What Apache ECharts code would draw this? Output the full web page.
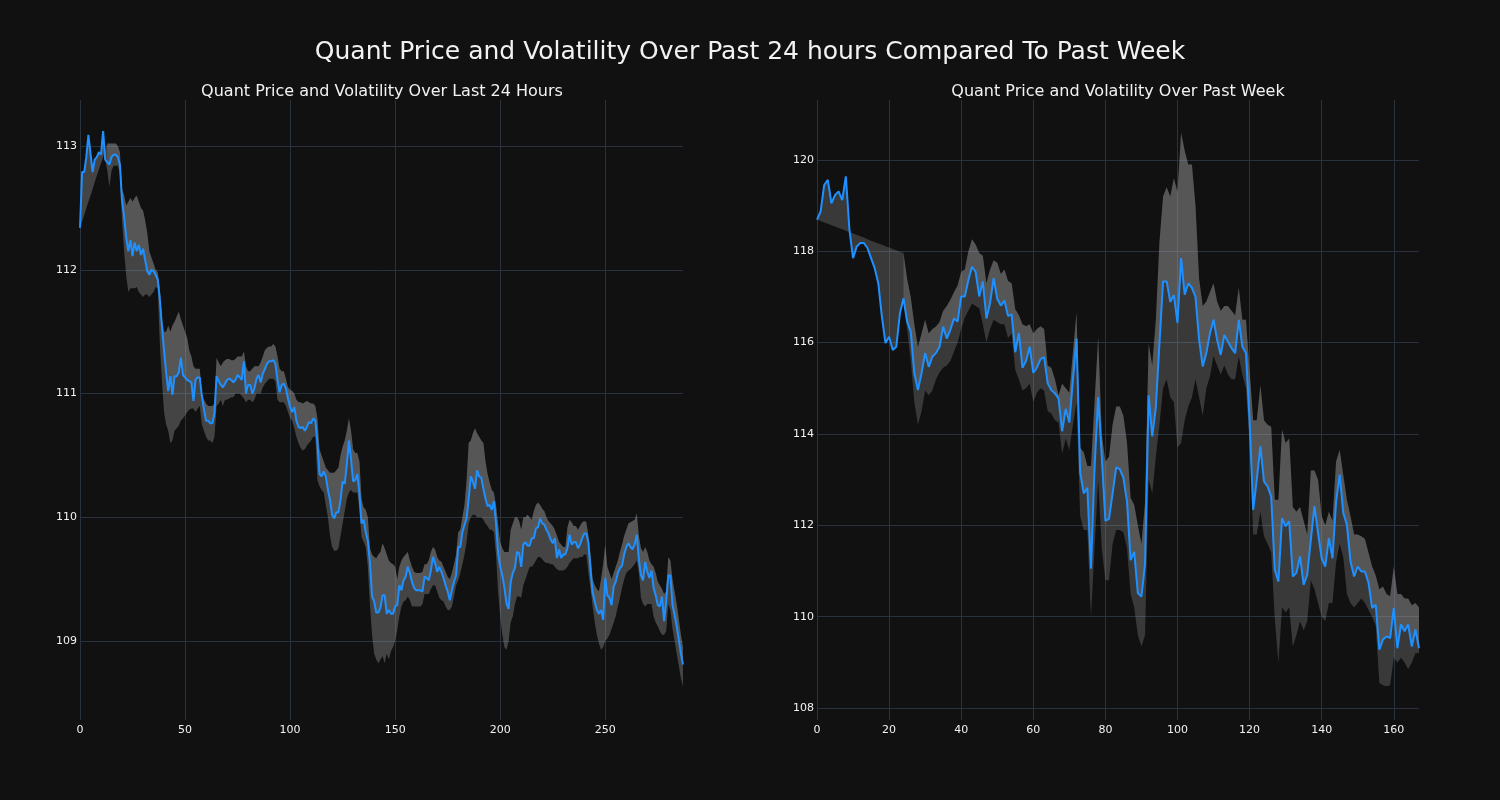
<!DOCTYPE html>
<html>
<head>
<meta charset="utf-8">
<script src="https://cdn.jsdelivr.net/npm/echarts@6/dist/echarts.min.js"></script>
<style>
html,body{margin:0;padding:0;background:#111111;}
#chart{width:1500px;height:800px;}
</style>
</head>
<body>
<div id="chart"></div>
<script>
// ---------- DATA ----------
const mainTitle = "Quant Price and Volatility Over Past 24 hours Compared To Past Week";
const dayTitle = "Quant Price and Volatility Over Last 24 Hours";
const weekTitle = "Quant Price and Volatility Over Past Week";

// Last 24 hours (5-minute steps)
const dayPrice = [
112.34,112.79,112.79,112.91,113.09,112.94,112.79,112.89,112.91,112.95,
112.93,113.12,112.89,112.87,112.85,112.91,112.93,112.93,112.91,112.85,
112.56,112.43,112.26,112.15,112.24,112.11,112.22,112.15,112.20,112.12,
112.17,112.08,111.99,111.96,112.00,111.99,111.96,111.92,111.76,111.54,
111.35,111.17,111.02,111.14,110.99,111.14,111.14,111.17,111.29,111.15,
111.13,111.11,111.10,111.09,110.94,111.11,111.13,111.13,110.98,110.87,
110.78,110.78,110.76,110.76,110.84,111.14,111.10,111.07,111.05,111.08,
111.11,111.12,111.11,111.09,111.11,111.15,111.13,111.11,111.26,111.00,
111.07,111.07,111.00,111.04,111.12,111.15,111.09,111.16,111.20,111.24,
111.26,111.26,111.27,111.24,111.11,111.01,111.07,111.08,111.04,110.96,
110.89,110.85,110.89,110.78,110.73,110.72,110.73,110.70,110.73,110.77,
110.76,110.80,110.78,110.60,110.35,110.33,110.37,110.33,110.22,110.14,
110.02,109.99,110.04,110.04,110.14,110.29,110.27,110.43,110.62,110.47,
110.29,110.30,110.35,110.19,109.95,109.98,109.88,109.81,109.63,109.36,
109.32,109.23,109.23,109.27,109.37,109.37,109.22,109.25,109.22,109.22,
109.28,109.29,109.45,109.41,109.49,109.52,109.60,109.55,109.48,109.43,
109.41,109.41,109.41,109.40,109.52,109.51,109.49,109.57,109.68,109.63,
109.56,109.60,109.56,109.51,109.45,109.40,109.33,109.41,109.48,109.53,
109.76,109.76,109.88,109.94,109.99,110.15,110.33,110.29,110.23,110.38,
110.33,110.32,110.23,110.15,110.09,110.10,110.06,110.13,109.95,109.71,
109.60,109.53,109.43,109.30,109.26,109.48,109.55,109.59,109.72,109.71,
109.60,109.78,109.80,109.77,109.77,109.83,109.83,109.91,109.92,109.99,
109.95,109.94,109.90,109.87,109.82,109.79,109.83,109.67,109.74,109.67,
109.70,109.70,109.75,109.86,109.78,109.80,109.80,109.75,109.78,109.83,
109.87,109.87,109.79,109.57,109.39,109.32,109.25,109.22,109.25,109.17,
109.51,109.37,109.35,109.29,109.44,109.48,109.55,109.59,109.61,109.70,
109.76,109.79,109.76,109.74,109.78,109.86,109.66,109.53,109.49,109.64,
109.56,109.51,109.57,109.43,109.37,109.29,109.28,109.36,109.16,109.32,
109.53,109.53,109.29,109.21,109.12,109.01,108.90,108.81
];
const dayUpper = [
112.34,112.39,112.44,112.50,112.55,112.60,112.65,112.71,112.76,112.81,
112.86,112.91,112.97,113.02,113.02,113.02,113.02,113.02,113.00,112.95,
112.65,112.60,112.52,112.55,112.58,112.55,112.58,112.60,112.55,112.50,
112.48,112.40,112.30,112.15,112.10,112.05,112.00,111.98,111.85,111.60,
111.50,111.50,111.55,111.50,111.55,111.58,111.62,111.66,111.60,111.55,
111.50,111.45,111.35,111.30,111.22,111.20,111.20,111.20,111.00,110.95,
110.92,110.90,110.90,110.90,110.92,111.29,111.25,111.22,111.25,111.27,
111.28,111.28,111.27,111.27,111.28,111.30,111.30,111.30,111.34,111.22,
111.18,111.18,111.20,111.22,111.22,111.22,111.25,111.30,111.35,111.37,
111.38,111.38,111.40,111.38,111.30,111.20,111.18,111.18,111.12,111.05,
111.03,111.02,111.00,110.95,110.93,110.93,110.92,110.93,110.94,110.93,
110.92,110.92,110.90,110.80,110.55,110.50,110.45,110.40,110.38,110.36,
110.36,110.36,110.38,110.40,110.50,110.57,110.62,110.70,110.80,110.70,
110.55,110.52,110.52,110.45,110.15,110.08,110.06,110.00,109.75,109.70,
109.68,109.67,109.70,109.72,109.79,109.75,109.70,109.65,109.63,109.62,
109.60,109.50,109.60,109.65,109.68,109.70,109.72,109.65,109.60,109.56,
109.55,109.55,109.55,109.56,109.62,109.62,109.65,109.72,109.76,109.74,
109.68,109.65,109.64,109.60,109.56,109.52,109.50,109.55,109.62,109.70,
109.88,109.90,110.00,110.10,110.30,110.60,110.62,110.68,110.72,110.68,
110.65,110.62,110.60,110.45,110.35,110.28,110.22,110.20,110.10,109.95,
109.80,109.75,109.72,109.72,109.72,109.90,109.95,110.00,110.00,109.97,
109.90,110.00,110.00,110.02,110.00,109.98,110.05,110.10,110.12,110.10,
110.07,110.05,110.00,109.97,109.95,109.93,109.90,109.85,109.80,109.78,
109.76,109.76,109.92,109.98,109.96,109.93,109.93,109.90,109.93,109.96,
109.97,109.96,109.85,109.70,109.50,109.45,109.42,109.40,109.50,109.62,
109.78,109.60,109.55,109.50,109.55,109.60,109.65,109.72,109.78,109.85,
109.90,109.95,109.96,109.97,109.98,110.03,109.85,109.75,109.72,109.76,
109.72,109.65,109.62,109.60,109.55,109.48,109.45,109.42,109.38,109.40,
109.68,109.65,109.50,109.40,109.30,109.18,109.05,108.95
];
const dayLower = [
null,null,null,null,null,null,null,null,null,null,
null,null,null,112.80,112.67,112.80,112.84,112.84,112.84,112.78,
112.40,112.15,111.95,111.82,111.85,111.85,111.85,111.86,111.82,111.80,
111.78,111.80,111.80,111.78,111.80,111.82,111.86,111.85,111.40,111.10,
110.85,110.75,110.70,110.60,110.62,110.70,110.72,110.74,110.78,110.80,
110.82,110.85,110.87,110.88,110.88,110.85,110.88,110.90,110.75,110.70,
110.65,110.62,110.62,110.60,110.65,110.90,110.92,110.95,110.90,110.95,
110.95,110.96,110.97,110.97,111.00,111.00,111.00,110.98,110.96,110.93,
110.95,110.95,110.93,110.95,111.00,111.00,111.00,111.05,111.08,111.10,
111.12,111.12,111.12,111.10,110.95,110.93,110.93,110.93,110.90,110.85,
110.80,110.78,110.72,110.65,110.60,110.56,110.54,110.55,110.58,110.60,
110.62,110.65,110.65,110.30,110.25,110.22,110.20,110.10,110.00,109.85,
109.76,109.73,109.73,109.75,109.85,109.95,110.05,110.15,110.20,110.22,
110.20,110.20,110.20,110.05,109.84,109.80,109.76,109.60,109.30,109.05,
108.90,108.85,108.82,108.85,108.88,108.82,108.90,108.85,108.92,108.95,
109.00,109.09,109.20,109.28,109.32,109.33,109.36,109.33,109.28,109.28,
109.28,109.28,109.28,109.30,109.38,109.38,109.38,109.42,109.45,109.45,
109.40,109.35,109.33,109.32,109.28,109.25,109.25,109.28,109.36,109.45,
109.49,109.55,109.62,109.70,109.80,109.95,110.00,110.02,110.02,110.00,
110.00,110.00,109.98,109.95,109.93,109.90,109.90,109.88,109.70,109.40,
109.20,109.05,108.95,108.93,109.00,109.15,109.20,109.30,109.36,109.36,
109.35,109.45,109.50,109.55,109.60,109.60,109.62,109.65,109.68,109.68,
109.66,109.64,109.63,109.63,109.62,109.62,109.60,109.58,109.57,109.57,
109.57,109.58,109.60,109.63,109.65,109.67,109.67,109.67,109.68,109.68,
109.70,109.70,109.55,109.42,109.28,109.15,109.05,108.98,108.93,108.95,
109.00,109.02,109.05,109.10,109.15,109.20,109.28,109.35,109.43,109.50,
109.55,109.57,109.58,109.60,109.62,109.65,109.55,109.35,109.30,109.28,
109.30,109.30,109.30,109.20,109.15,109.12,109.08,109.05,109.05,109.08,
109.30,109.25,109.10,109.00,108.90,108.80,108.70,108.63
];

// Past week (hourly steps)
const weekPrice = [
118.69,118.87,119.45,119.56,119.05,119.23,119.31,119.12,119.64,118.47,
117.85,118.10,118.18,118.18,118.07,117.85,117.63,117.30,116.57,115.99,
116.13,115.84,115.91,116.64,116.97,116.46,116.24,115.33,114.96,115.33,
115.77,115.47,115.69,115.77,115.91,116.35,116.09,116.28,116.53,116.46,
117.01,117.01,117.37,117.66,117.55,117.01,117.34,116.53,116.86,117.41,
116.96,116.81,116.92,116.58,116.62,115.79,116.21,115.45,115.60,115.91,
115.34,115.45,115.64,115.68,115.11,114.96,114.89,114.78,114.06,114.55,
114.25,115.19,116.09,113.16,112.70,112.82,111.05,113.27,114.81,113.50,
112.10,112.14,112.70,113.27,113.23,113.04,112.52,111.24,111.42,110.52,
110.44,111.16,114.85,113.95,114.59,115.98,117.34,117.34,116.89,117.04,
116.43,117.85,117.05,117.30,117.20,117.00,116.06,115.48,115.77,116.20,
116.50,116.06,115.73,116.17,116.02,115.88,115.77,116.50,115.91,115.77,
114.31,112.34,113.00,113.73,112.96,112.85,112.63,111.03,110.77,112.16,
111.98,112.09,110.88,110.96,111.32,110.70,110.92,111.69,112.42,111.83,
111.28,111.10,111.72,111.28,112.52,113.11,112.27,112.01,111.21,110.88,
111.10,110.99,110.99,110.74,110.19,110.26,109.28,109.50,109.57,109.53,
110.19,109.31,109.83,109.68,109.83,109.35,109.72,109.31
];
const weekUpper = [
118.69,118.66,118.63,118.60,118.57,118.54,118.51,118.48,118.45,118.42,
118.39,118.36,118.33,118.30,118.26,118.23,118.20,118.17,118.14,118.11,
118.08,118.05,118.02,117.99,117.96,117.40,117.00,116.40,115.90,116.20,
116.50,116.20,116.30,116.35,116.45,116.70,116.80,116.94,117.10,117.25,
117.55,117.60,118.00,118.26,118.15,117.96,117.90,117.30,117.60,117.80,
117.75,117.50,117.60,117.35,117.30,116.73,116.60,116.40,116.36,116.40,
116.20,116.30,116.36,116.30,115.50,115.45,115.20,114.85,115.10,115.00,
114.90,115.80,116.66,113.70,113.60,113.30,113.30,114.70,116.13,114.00,
113.40,113.50,114.20,114.60,114.60,114.40,113.80,112.60,112.45,112.00,
111.60,112.50,115.98,115.50,116.50,118.20,119.20,119.40,119.20,119.60,
119.30,120.60,120.20,119.90,119.90,119.00,117.40,116.80,116.90,117.10,
117.30,116.90,116.70,116.80,116.80,116.70,116.60,117.20,116.50,116.50,
115.40,114.30,114.30,115.07,114.30,114.20,114.16,112.56,112.56,114.10,
113.80,113.90,112.40,112.30,112.40,112.10,111.80,113.20,113.20,113.00,
112.20,112.00,112.30,112.10,113.40,113.65,113.10,112.56,112.20,111.80,
111.80,111.76,111.70,111.40,111.10,110.90,110.60,110.66,110.50,110.45,
111.10,110.50,110.50,110.40,110.40,110.25,110.30,110.20
];
const weekLower = [
null,null,null,null,null,null,null,null,null,null,
null,null,null,null,null,null,null,null,null,null,
null,null,null,null,116.90,116.30,115.60,114.70,114.20,114.50,
114.95,114.85,114.95,115.20,115.35,115.45,115.50,115.60,115.80,116.00,
116.30,116.55,116.70,116.85,116.80,116.75,116.40,116.00,116.30,116.50,
116.45,116.40,116.40,116.10,116.20,115.40,115.20,114.95,115.00,115.10,
114.70,114.90,115.00,114.95,114.50,114.45,114.30,114.25,113.57,113.90,
113.65,114.20,114.70,112.20,111.90,111.90,110.00,111.50,113.00,111.50,
110.80,110.80,111.60,111.90,111.90,111.85,111.50,110.50,110.20,109.60,
109.35,109.60,113.00,112.70,113.50,114.20,115.00,115.20,114.80,114.70,
113.70,113.80,114.30,114.60,114.80,115.20,114.80,114.40,115.00,115.26,
115.70,115.50,115.30,115.50,115.30,115.20,115.20,115.70,115.30,115.00,
113.80,111.80,111.80,112.30,111.76,111.60,111.40,109.94,109.00,110.20,
110.10,110.20,109.35,109.60,109.90,109.70,109.90,110.80,110.60,110.30,
110.00,109.90,110.30,110.30,111.20,111.60,111.30,110.50,110.30,110.20,
110.30,110.40,110.30,110.15,110.00,109.80,108.55,108.50,108.48,108.50,
109.10,109.00,109.10,109.00,108.85,109.00,109.20,109.20
];

// Axis settings (tick steps and ranges)
const dayXTickStep = 50, weekXTickStep = 20;
const dayYTickStep = 1, weekYTickStep = 2;
const dayXMax = 287, weekXMax = 167;
const dayYRange = [108.362, 113.372];
const weekYRange = [107.74, 121.31];

// ---------- CHART ----------
const BG = '#111111';
const GRID = '#2a323e';
const TEXT = '#f2f2f2';
const LINE = '#1e90ff';
const FONT = 'DejaVu Sans';

function bandSeries(price, upper, lower, axisIdx, baseFill, topFill) {
  // base layer: whole band (lower..upper); top layer: price..upper
  const idx = price.map((_, i) => i);
  const start = lower.findIndex(v => v !== null);
  return [
    {
      type: 'custom', xAxisIndex: axisIdx, yAxisIndex: axisIdx, silent: true, z: 1,
      data: [0], clip: true,
      renderItem: function (params, api) {
        const pts = [];
        for (let i = 0; i < price.length; i++) pts.push(api.coord([i, upper[i]]));
        for (let i = price.length - 1; i >= 0; i--) pts.push(api.coord([i, lower[i] === null ? price[i] : lower[i]]));
        return { type: 'polygon', shape: { points: pts }, style: { fill: baseFill } };
      }
    },
    {
      type: 'custom', xAxisIndex: axisIdx, yAxisIndex: axisIdx, silent: true, z: 2,
      data: [0], clip: true,
      renderItem: function (params, api) {
        const pts = [];
        for (let i = start; i < price.length; i++) pts.push(api.coord([i, upper[i]]));
        for (let i = price.length - 1; i >= start; i--) pts.push(api.coord([i, price[i]]));
        return { type: 'polygon', shape: { points: pts }, style: { fill: topFill } };
      }
    },
    {
      type: 'line', xAxisIndex: axisIdx, yAxisIndex: axisIdx, z: 5,
      data: idx.map(i => [i, price[i]]),
      showSymbol: false, symbol: 'none',
      lineStyle: { color: LINE, width: 2 }
    }
  ];
}

function xAxis(gridIndex, max, step) {
  const nTicks = Math.floor(max / step) + 1;
  const colors = [];
  for (let k = 0; k < nTicks; k++) colors.push(GRID);
  if (max % step !== 0) colors.push('rgba(0,0,0,0)');
  return {
    type: 'value', gridIndex: gridIndex, min: 0, max: max, interval: step,
    axisLine: { show: false }, axisTick: { show: false },
    axisLabel: { color: TEXT, fontFamily: FONT, fontSize: 11, margin: 5, showMaxLabel: false },
    splitLine: { show: true, lineStyle: { color: colors, width: 1 } }
  };
}

function yAxis(gridIndex, range, step) {
  const first = Math.ceil(range[0] / step) * step;
  const last = Math.floor(range[1] / step) * step;
  const colors = [];
  if (range[0] < first) colors.push('rgba(0,0,0,0)');
  for (let v = first; v <= last + 1e-9; v += step) colors.push(GRID);
  if (range[1] > last) colors.push('rgba(0,0,0,0)');
  return {
    type: 'value', gridIndex: gridIndex, min: range[0], max: range[1],
    minInterval: step, maxInterval: step, splitNumber: Math.round((range[1] - range[0]) / step),
    axisLine: { show: false }, axisTick: { show: false },
    axisLabel: { color: TEXT, fontFamily: FONT, fontSize: 11, margin: 3, showMinLabel: false, showMaxLabel: false,
      formatter: v => String(Math.round(v)) },
    splitLine: { show: true, lineStyle: { color: colors, width: 1 } }
  };
}

const chart = echarts.init(document.getElementById('chart'), null, { renderer: 'canvas' });
chart.setOption({
  backgroundColor: BG,
  animation: false,
  title: [
    { text: mainTitle, left: 745, top: 35, textAlign: 'center',
      textStyle: { color: TEXT, fontFamily: FONT, fontSize: 25, fontWeight: 'normal' } },
    { text: dayTitle, left: 377, top: 79, textAlign: 'center',
      textStyle: { color: TEXT, fontFamily: FONT, fontSize: 16, fontWeight: 'normal' } },
    { text: weekTitle, left: 1113, top: 79, textAlign: 'center',
      textStyle: { color: TEXT, fontFamily: FONT, fontSize: 16, fontWeight: 'normal' } }
  ],
  grid: [
    { left: 80, top: 100, width: 603, height: 620, containLabel: false },
    { left: 817, top: 100, width: 602, height: 620, containLabel: false }
  ],
  xAxis: [xAxis(0, dayXMax, dayXTickStep), xAxis(1, weekXMax, weekXTickStep)],
  yAxis: [yAxis(0, dayYRange, dayYTickStep), yAxis(1, weekYRange, weekYTickStep)],
  series: [].concat(
    bandSeries(dayPrice, dayUpper, dayLower, 0, 'rgba(160,160,160,0.36)', 'rgba(160,160,160,0.2)'),
    bandSeries(weekPrice, weekUpper, weekLower, 1, 'rgba(160,160,160,0.28)', 'rgba(160,160,160,0.28)')
  )
});
</script>
</body>
</html>
